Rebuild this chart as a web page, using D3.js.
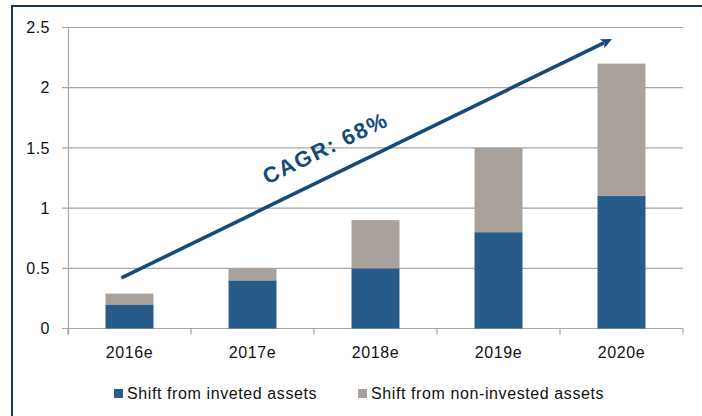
<!DOCTYPE html>
<html><head><meta charset="utf-8">
<script src="https://cdn.jsdelivr.net/npm/d3@7"></script>
<style>
html,body{margin:0;padding:0;background:#fff;}
svg{display:block;font-family:"Liberation Sans",Arial,sans-serif;}
</style></head>
<body>
<svg id="chart" width="702" height="416"></svg>
<script>
const categories = ["2016e","2017e","2018e","2019e","2020e"];
const investedValues = [0.2, 0.4, 0.5, 0.8, 1.1];
const nonInvestedValues = [0.09, 0.1, 0.4, 0.7, 1.1];
const seriesNames = ["Shift from inveted assets", "Shift from non-invested assets"];
const yTickValues = [0, 0.5, 1, 1.5, 2, 2.5];
const yTickLabels = ["0", "0.5", "1", "1.5", "2", "2.5"];
const cagrLabel = "CAGR: 68%";
const arrowFrom = {cat: "2016e", value: 0.42};
const arrowTo = {cat: "2020e", value: 2.405};

const colors = ["#275b89", "#a9a19b"];
const navy = "#154a7c";
const gridColor = "#a6a6a6";
const textColor = "#111111";

const svg = d3.select("#chart");

// frame
svg.append("path").attr("d","M12,420 L12,6 L710,6")
  .attr("fill","none").attr("stroke","#1b3558").attr("stroke-width",2);

const x = d3.scaleBand().domain(categories).range([68, 683])
  .paddingInner(0.61).paddingOuter(0.305);
const y = d3.scaleLinear().domain([0, 2.5]).range([328.5, 27.5]);

// gridlines + y ticks
const g = svg.append("g");
g.selectAll("line.grid").data(yTickValues).join("line")
  .attr("x1", 62).attr("x2", 683)
  .attr("y1", d => y(d)).attr("y2", d => y(d))
  .attr("stroke", gridColor).attr("stroke-width", 1.2);
g.append("line").attr("x1",68.5).attr("x2",68.5).attr("y1",y(2.5)).attr("y2",y(0)+6)
  .attr("stroke",gridColor).attr("stroke-width",1.2);
const tickXs = [68].concat(categories.map(c => x(c) + x.bandwidth() + (x.step()-x.bandwidth())/2));
g.selectAll("line.xt").data(tickXs).join("line")
  .attr("x1", d => d).attr("x2", d => d)
  .attr("y1", y(0)).attr("y2", y(0)+6)
  .attr("stroke", gridColor).attr("stroke-width", 1.2);

g.selectAll("text.yl").data(yTickValues).join("text")
  .attr("x", 50).attr("y", d => y(d)).attr("dy","0.36em")
  .attr("text-anchor","end").attr("font-size",16).attr("letter-spacing","0.5px")
  .attr("fill",textColor)
  .text((d,i) => yTickLabels[i]);

g.selectAll("text.xl").data(categories).join("text")
  .attr("x", d => x(d) + x.bandwidth()/2).attr("y", 357.5)
  .attr("text-anchor","middle").attr("font-size",16).attr("letter-spacing","0.6px")
  .attr("fill",textColor)
  .text(d => d);

// stacked bars
const rows = categories.map((c,i) => ({cat:c, inv:investedValues[i], non:nonInvestedValues[i]}));
const stack = d3.stack().keys(["inv","non"])(rows);
svg.append("g").selectAll("g").data(stack).join("g")
  .attr("fill", (d,i) => colors[i])
  .selectAll("rect").data(d => d).join("rect")
  .attr("x", d => x(d.data.cat)).attr("width", x.bandwidth())
  .attr("y", d => y(d[1])).attr("height", d => y(d[0]) - y(d[1]));

// arrow
const x1 = x(arrowFrom.cat) + x.bandwidth()/2 - 8;
const y1 = y(arrowFrom.value);
const x2 = x(arrowTo.cat) + x.bandwidth()/2 - 9.5;
const y2 = y(arrowTo.value);
const ang = Math.atan2(y2 - y1, x2 - x1);
const headLen = 11, headW = 5;
const bx = x2 - headLen*Math.cos(ang), by = y2 - headLen*Math.sin(ang);
svg.append("line").attr("x1",x1).attr("y1",y1)
  .attr("x2", bx + 2*Math.cos(ang)).attr("y2", by + 2*Math.sin(ang))
  .attr("stroke",navy).attr("stroke-width",3.6).attr("stroke-linecap","butt");
const px = -Math.sin(ang), py = Math.cos(ang);
svg.append("path")
  .attr("d", `M${x2},${y2} L${bx+px*headW},${by+py*headW} L${bx+2.5*Math.cos(ang)},${by+2.5*Math.sin(ang)} L${bx-px*headW},${by-py*headW} Z`)
  .attr("fill", navy);

// CAGR label along arrow
const t = 0.44;
const mx = x1 + (x2-x1)*t, my = y1 + (y2-y1)*t;
svg.append("text")
  .attr("transform", `translate(${mx},${my}) rotate(${ang*180/Math.PI}) translate(0,-20)`)
  .attr("text-anchor","middle").attr("font-size",22).attr("font-weight","bold")
  .attr("letter-spacing","1.6px").attr("fill",navy)
  .text(cagrLabel);

// legend
const legendXs = [114, 358];
const lg = svg.append("g");
seriesNames.forEach((name,i) => {
  lg.append("rect").attr("x",legendXs[i]).attr("y",389).attr("width",9).attr("height",9).attr("fill",colors[i]);
  lg.append("text").attr("x",legendXs[i]+13).attr("y",398.5)
    .attr("font-size",16).attr("letter-spacing","0.6px").attr("fill",textColor).text(name);
});
</script>
</body></html>
